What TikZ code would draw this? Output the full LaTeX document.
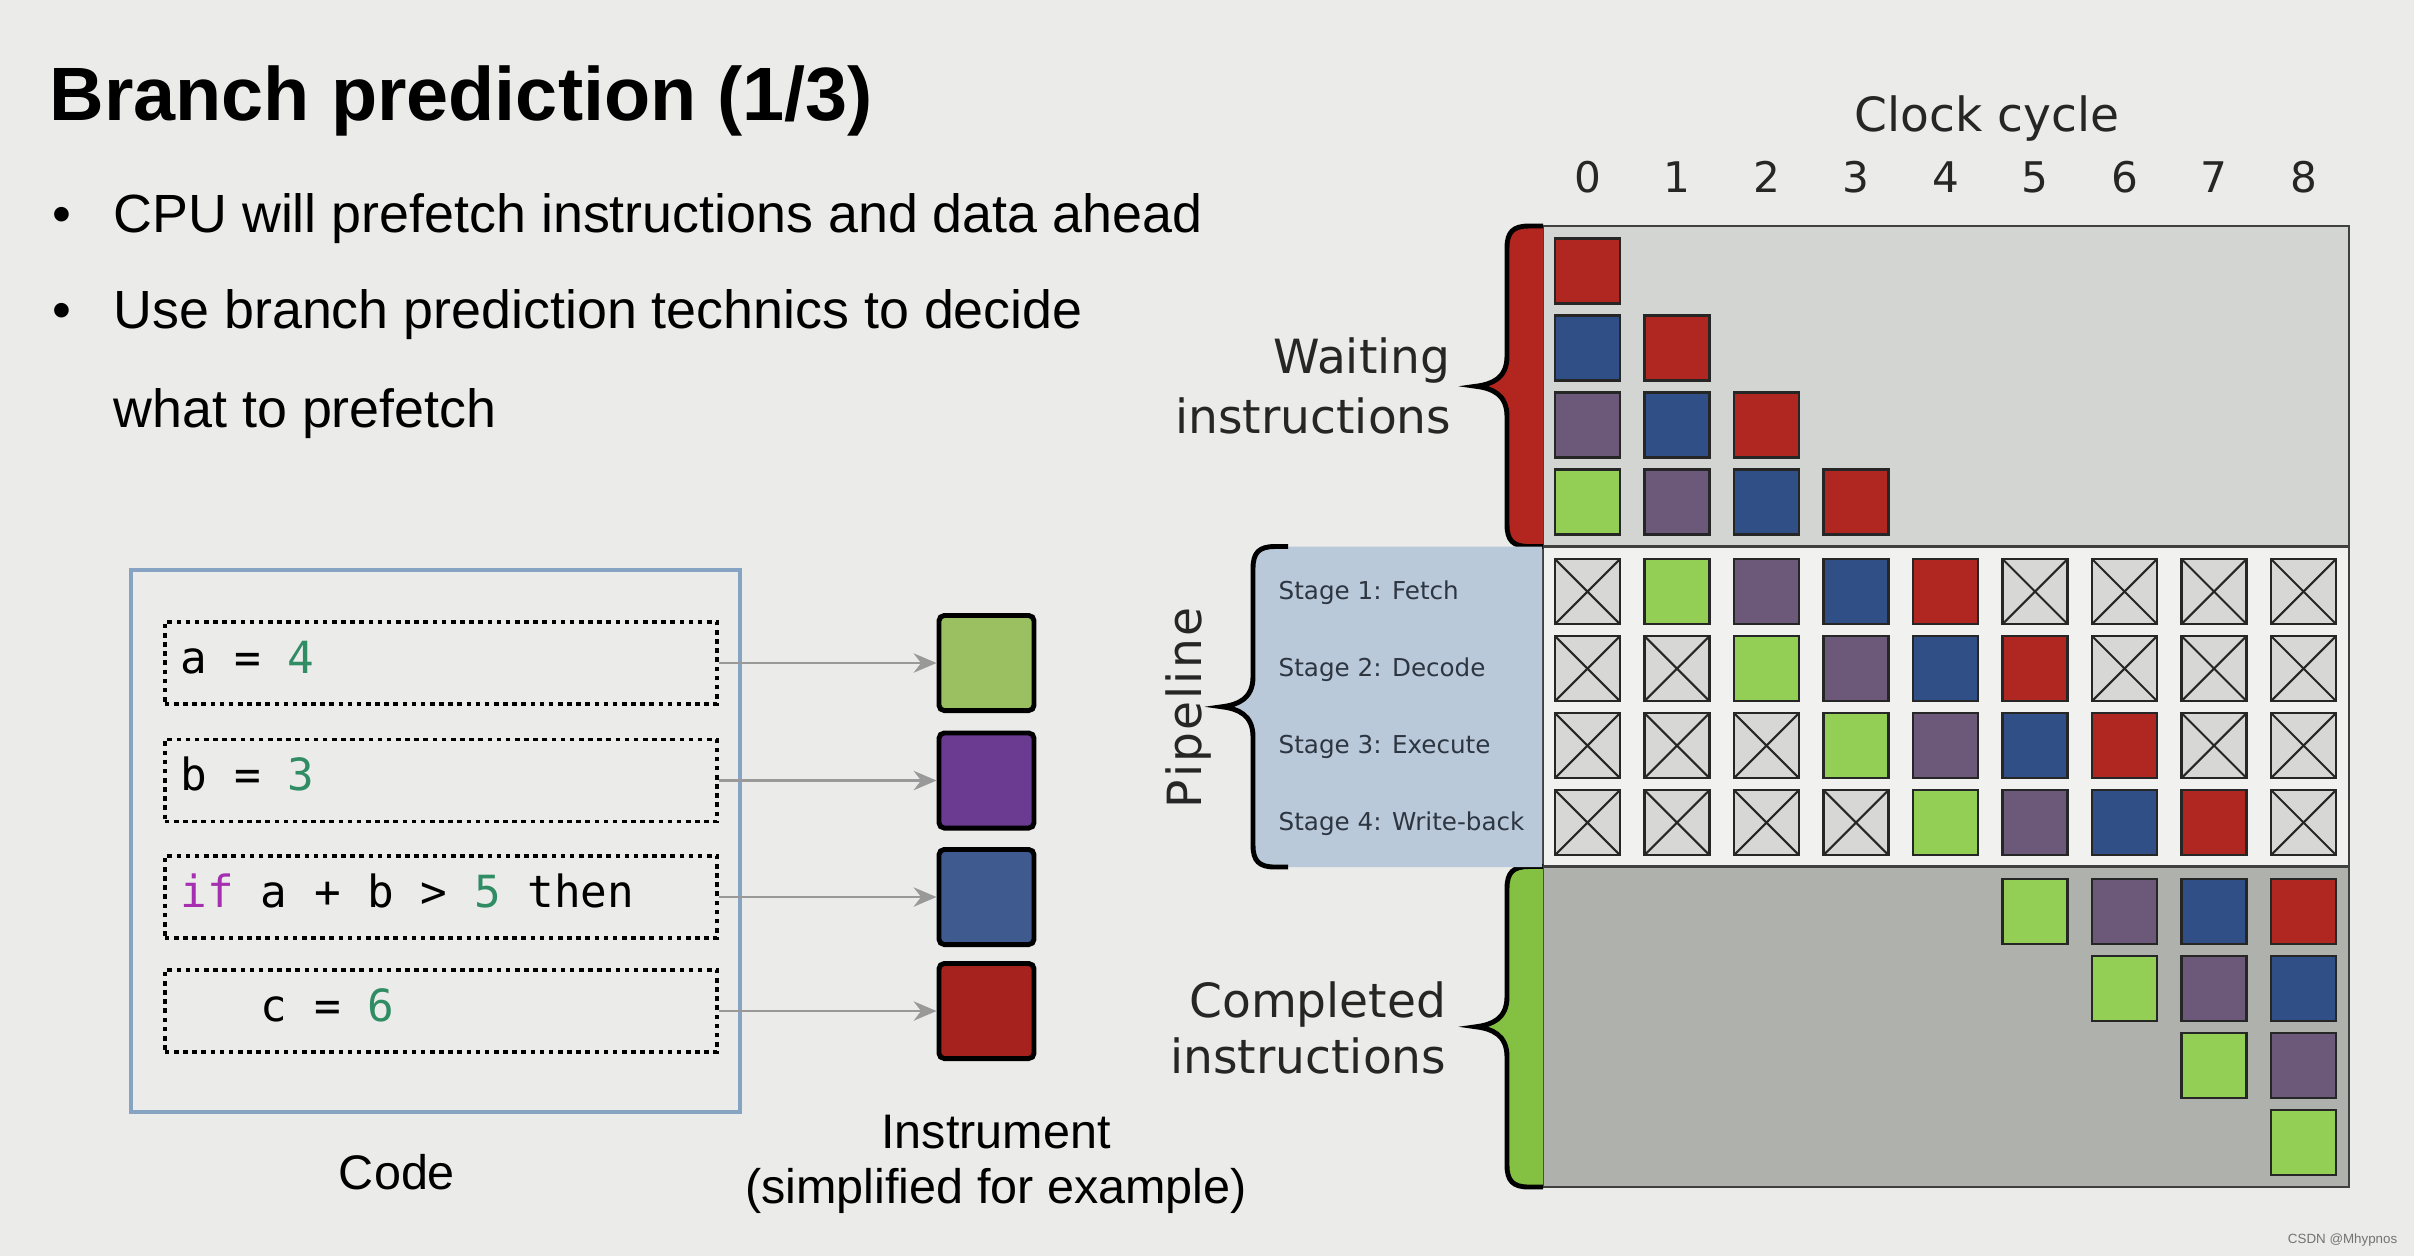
\documentclass[tikz,border=0pt]{standalone}
\usepackage{fontspec}
\setmainfont{Liberation Sans}
\setmonofont{DejaVu Sans Mono}
\newfontfamily\chartfont{DejaVu Sans}
\usetikzlibrary{
  arrows.meta,
  positioning,
}

\definecolor{slidebg}{HTML}{EBEBEA}
\definecolor{framecol}{HTML}{86A3C4}
\definecolor{kwcol}{HTML}{A52FB0}
\definecolor{numcol}{HTML}{2F8C63}
\definecolor{igreen}{HTML}{9BC062}
\definecolor{ipurple}{HTML}{6B3A91}
\definecolor{iblue}{HTML}{3E5A8E}
\definecolor{ired}{HTML}{A6221E}
\definecolor{cgreen}{HTML}{93CF55}
\definecolor{cpurple}{HTML}{6C5878}
\definecolor{cblue}{HTML}{2F4F86}
\definecolor{cred}{HTML}{B02620}
\definecolor{cidle}{HTML}{D7D7D6}
\definecolor{waitbg}{HTML}{D3D5D2}
\definecolor{pipebg}{HTML}{F1F1F0}
\definecolor{donebg}{HTML}{AFB1AD}
\definecolor{panelbg}{HTML}{B9C9DA}
\definecolor{bracered}{HTML}{B32620}
\definecolor{bracegreen}{HTML}{84C143}
\definecolor{stagetext}{HTML}{2D3540}

\newcommand{\codekw}[1]{\textcolor{kwcol}{#1}}
\newcommand{\codenum}[1]{\textcolor{numcol}{#1}}
\newcommand{\codesp}{\hspace*{0.602em}}
% #1 right x, #2 vertical x, #3 tip x, #4 top y, #5 bottom y
\newcommand{\bracepath}[5]{%
  (#1,#4) -- ({#2+22},#4) .. controls ({#2+6},#4) and (#2,{#4+6}) .. (#2,{#4+22})
  -- (#2,{(#4+#5)/2-30}) .. controls (#2,{(#4+#5)/2-8}) and ({#3+16},{(#4+#5)/2-2}) .. (#3,{(#4+#5)/2})
  .. controls ({#3+16},{(#4+#5)/2+2}) and (#2,{(#4+#5)/2+8}) .. (#2,{(#4+#5)/2+30})
  -- (#2,{#5-22}) .. controls (#2,{#5-6}) and ({#2+6},#5) .. ({#2+22},#5) -- (#1,#5)}

\tikzset{
  >={Stealth[length=6.5pt,width=5.5pt]},
  label/.style={inner sep=0pt, font=\fontsize{15.3}{18}\selectfont},
  caption/.style={inner sep=0pt, font=\fontsize{13.8}{16}\selectfont},
  chartlabel/.style={inner sep=0pt, text=black!85, font=\chartfont\fontsize{13.4}{16}\selectfont},
  stage/.style={inner sep=0pt, anchor=base west, text=stagetext, font=\chartfont\fontsize{7}{8}\selectfont},
  codeline/.style={draw, line width=1.1pt, dash pattern=on 1.3pt off 1.3pt,
    minimum width=5.52cm, minimum height=0.82cm, inner xsep=0.15cm, inner ysep=0pt,
    text width=5.2cm, align=left, text height=0.3cm, text depth=0.1cm,
    font=\ttfamily\fontsize{12.6}{15}\selectfont},
  instr/.style={draw=black, line width=1.4pt, rounded corners=1.5pt,
    minimum width=0.95cm, minimum height=0.95cm, inner sep=0pt},
  codearrow/.style={->, draw=black!40, line width=0.7pt},
  chip/.style={draw=black!85, line width=0.8pt, minimum width=0.65cm,
    minimum height=0.65cm, inner sep=0pt},
  cellg/.style={chip, fill=cgreen},
  cellp/.style={chip, fill=cpurple},
  cellb/.style={chip, fill=cblue},
  cellr/.style={chip, fill=cred},
  cellx/.style={chip, fill=cidle, path picture={
    \draw[line width=0.6pt, black!85]
      (path picture bounding box.north west) -- (path picture bounding box.south east)
      (path picture bounding box.north east) -- (path picture bounding box.south west);}},
  region/.style={draw=black!75, line width=0.7pt},
}

\begin{document}
\begin{tikzpicture}[x=0.01cm, y=-0.01cm]
  \fill[slidebg] (0,0) rectangle (2414,1256);
  \useasboundingbox (0,0) rectangle (2414,1256);

  % title and bullets
  \node [anchor=base west, inner sep=0pt, font=\bfseries\fontsize{21.5}{26}\selectfont]
    (title) at (49,120) {Branch prediction (1/3)};
  \node [label, anchor=base] (dot1) at (62,232) {\textbullet};
  \node [label, anchor=base west] (item1) at (113,232) {CPU will prefetch instructions and data ahead};
  \node [label, anchor=base] (dot2) at (62,328) {\textbullet};
  \node [label, anchor=base west] (item2) at (113,328) {Use branch prediction technics to decide};
  \node [label, anchor=base west] (item2b) at (113,427) {what to prefetch};

  % code and instruments
  \draw [draw=framecol, line width=0.9pt] (131,570) rectangle (740,1112);
  \node [codeline] (cline1) at (441,663) {a\codesp=\codesp\codenum{4}};
  \node [codeline] (cline2) at (441,780.5) {b\codesp=\codesp\codenum{3}};
  \node [codeline] (cline3) at (441,897)
    {\codekw{if}\codesp a\codesp+\codesp b\codesp>\codesp\codenum{5}\codesp then};
  \node [codeline] (cline4) at (441,1011) {\phantom{xxx}c\codesp=\codesp\codenum{6}};

  \node [instr, fill=igreen] (ins1) at (986.5,663) {};
  \node [instr, fill=ipurple] (ins2) at (986.5,780.5) {};
  \node [instr, fill=iblue] (ins3) at (986.5,897) {};
  \node [instr, fill=ired] (ins4) at (986.5,1011) {};
  \foreach \i in {1, ..., 4}
  {
    \draw [codearrow] (cline\i.east) -- (ins\i.west);
  }

  \node [caption, anchor=base] (codelbl) at (397,1189) {Code};
  \node [caption, anchor=base] (inslbl) at (996,1148) {Instrument};
  \node [caption, anchor=base] (inslbl2) at (996,1203) {(simplified for example)};

  % clock cycle chart
  \node [chartlabel, anchor=base] (clocklbl) at (1987,131) {Clock cycle};
  \foreach \i in {0, ..., 8}
  {
    \node [chartlabel, anchor=base, font=\chartfont\fontsize{12}{14}\selectfont]
      (cyc\i) at ({1587.5+89.5*\i},192) {\i};
  }

  \draw [region, fill=waitbg] (1543,226) rectangle (2349,546.5);
  \draw [region, fill=pipebg] (1543,546.5) rectangle (2349,866.5);
  \draw [region, fill=donebg] (1543,866.5) rectangle (2349,1187);

  \fill [bracered] \bracepath{1543}{1507}{1476}{226}{546.5} -- cycle;
  \draw [line width=1.4pt] \bracepath{1543}{1507}{1476}{226}{546.5};
  \fill [bracegreen] \bracepath{1543}{1507}{1476}{866.5}{1187} -- cycle;
  \draw [line width=1.4pt] \bracepath{1543}{1507}{1476}{866.5}{1187};
  \fill [panelbg] \bracepath{1542}{1253}{1222}{546.5}{867} -- cycle;
  \draw [line width=1.4pt] \bracepath{1288}{1253}{1222}{546.5}{867};

  \foreach \row/\cells in {0/{r}, 1/{b,r}, 2/{p,b,r}, 3/{g,p,b,r}}
  {
    \foreach \c [count=\i from 0] in \cells
      \node [cell\c] (wait-\row-\i) at ({1587.5+89.5*\i}, {271+77*\row}) {};
  }
  \foreach \row/\cells in {0/{x,g,p,b,r,x,x,x,x}, 1/{x,x,g,p,b,r,x,x,x},
                           2/{x,x,x,g,p,b,r,x,x}, 3/{x,x,x,x,g,p,b,r,x}}
  {
    \foreach \c [count=\i from 0] in \cells
      \node [cell\c] (pipe-\row-\i) at ({1587.5+89.5*\i}, {591.5+77*\row}) {};
  }
  \foreach \row/\cells in {0/{g,p,b,r}, 1/{g,p,b}, 2/{g,p}, 3/{g}}
  {
    \foreach \c [count=\i from 0] in \cells
      \node [cell\c] (done-\row-\i) at ({1587.5+89.5*(\i+5+\row)}, {911.5+77*\row}) {};
  }

  \node [stage] (stage1) at (1278,599) {Stage 1: Fetch};
  \node [stage] (stage2) at (1278,676) {Stage 2: Decode};
  \node [stage] (stage3) at (1278,753) {Stage 3: Execute};
  \node [stage] (stage4) at (1278,830) {Stage 4: Write-back};
  \node [chartlabel, rotate=90, font=\chartfont\fontsize{13.4}{16}\selectfont]
    (pipelbl) at (1188,708) {P\kern0.6pt i\kern0.6pt p\kern0.6pt e\kern0.6pt l\kern0.6pt i\kern0.6pt n\kern0.6pt e};

  \node [chartlabel, anchor=base east] (waitlbl) at (1451,373) {Waiting};
  \node [chartlabel, anchor=base east] (waitlbl2) at (1452,433) {instructions};
  \node [chartlabel, anchor=base east] (donelbl) at (1447,1017) {Completed};
  \node [chartlabel, anchor=base east] (donelbl2) at (1447,1073) {instructions};

  \node [anchor=base east, inner sep=0pt, text=black!55, font=\fontsize{3.8}{4}\selectfont]
    (mark) at (2398,1243) {CSDN @Mhypnos};
\end{tikzpicture}
\end{document}
